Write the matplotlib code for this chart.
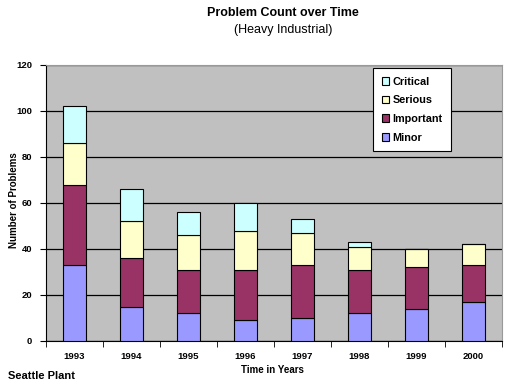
import matplotlib.pyplot as plt
import numpy as np

plt.rcParams['font.family'] = ['Liberation Sans', 'DejaVu Sans']

years = ['1993', '1994', '1995', '1996', '1997', '1998', '1999', '2000']
minor = [33, 15, 12, 9, 10, 12, 14, 17]
important = [35, 21, 19, 22, 23, 19, 18, 16]
serious = [18, 16, 15, 17, 14, 10, 8, 9]
critical = [16, 14, 10, 12, 6, 2, 0, 0]

series = [('Minor', minor, '#9999FF'),
          ('Important', important, '#993366'),
          ('Serious', serious, '#FFFFCC'),
          ('Critical', critical, '#CCFFFF')]

fig = plt.figure(figsize=(5.25, 3.86), dpi=100)
ax = fig.add_axes([46/525, 45/386, 456/525, 276/386])
ax.set_facecolor('#C0C0C0')

x = np.arange(len(years))
bottom = np.zeros(len(years))
handles = []
for name, vals, col in series:
    vals = np.array(vals)
    b = ax.bar(x, vals, 0.4, bottom=bottom, color=col, edgecolor='black',
               linewidth=0.8, label=name, zorder=3)
    handles.append(b)
    bottom += vals

ax.set_xlim(-0.5, len(years) - 0.5)
ax.set_ylim(0, 120)
ax.set_yticks(np.arange(0, 121, 20))
ax.yaxis.grid(True, color='black', linewidth=0.9, zorder=1)
ax.set_xticks(x)
ax.set_xticklabels(years)
ax.set_xticks(np.arange(-0.5, len(years), 1), minor=True)
ax.tick_params(axis='x', which='major', length=0, pad=8)
ax.tick_params(axis='x', which='minor', length=4, direction='out', color='black')
ax.tick_params(axis='y', length=4, direction='out', pad=6)
for lab in ax.get_xticklabels() + ax.get_yticklabels():
    lab.set_fontsize(6.8)
    lab.set_fontweight('bold')

ax.spines['left'].set_color('black')
ax.spines['bottom'].set_color('black')
ax.spines['top'].set_color('#999999')
ax.spines['right'].set_color('#999999')

leg = ax.legend(handles[::-1], [s[0] for s in series][::-1],
                loc='upper left', bbox_to_anchor=(327/456, 273/276),
                borderaxespad=0,
                frameon=True, fancybox=False, edgecolor='black',
                facecolor='white', framealpha=1,
                handlelength=0.7, handleheight=0.7, handletextpad=0.3,
                labelspacing=0.8, borderpad=0.8,
                prop={'size': 7.8, 'weight': 'bold'})
leg.get_frame().set_linewidth(0.8)

fig.text(283/525, 1 - 13/386, 'Problem Count over Time', ha='center', va='center',
         fontsize=9, fontweight='bold')
fig.text(283/525, 1 - 30/386, '(Heavy Industrial)', ha='center', va='center',
         fontsize=9)
fig.text(14/525, 1 - 200/386, 'Number of Problems', ha='center', va='center',
         rotation=90, fontsize=7, fontweight='bold')
fig.text(272/525, 1 - 370/386, 'Time in Years', ha='center', va='center',
         fontsize=7, fontweight='bold')
fig.text(8/525, 1 - 376/386, 'Seattle Plant', ha='left', va='center',
         fontsize=8, fontweight='bold')

fig.savefig('out.png', dpi=100)
